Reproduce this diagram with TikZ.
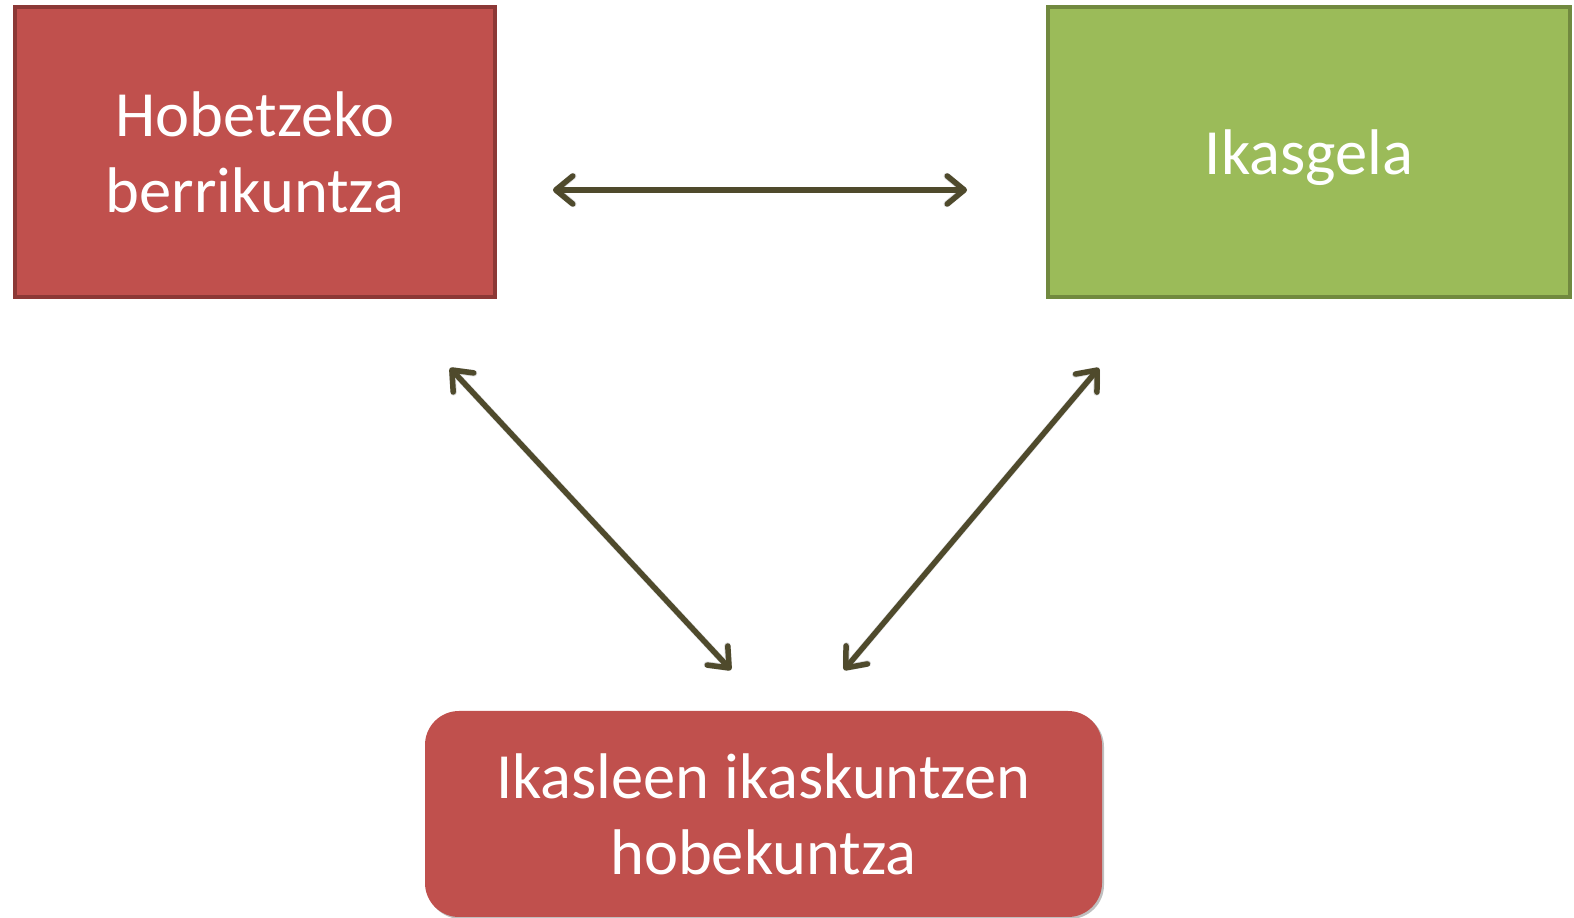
\documentclass[tikz,border=0pt]{standalone}
\usepackage{fontspec}
\setmainfont{Carlito}
\usetikzlibrary{arrows.meta,shadows}
\definecolor{redfill}{HTML}{C0504D}
\definecolor{redline}{HTML}{8C3836}
\definecolor{greenfill}{HTML}{9BBB59}
\definecolor{greenline}{HTML}{71893F}
\definecolor{arrowc}{HTML}{4F4A2C}
\tikzset{
  box/.style={draw, line width=4pt, minimum width=#1, inner sep=0pt, text=white, align=center,
    font=\fontsize{64.5}{76}\selectfont},
  redbox/.style={box=480pt, fill=redfill, draw=redline, minimum height=290pt},
  greenbox/.style={box=522pt, fill=greenfill, draw=greenline, minimum height=290pt},
  roundbox/.style={fill=redfill, rounded corners=34pt, minimum width=677pt, minimum height=206pt,
    inner sep=0pt, text=white, align=center, font=\fontsize{64.5}{76}\selectfont,
    drop shadow={shadow xshift=2pt, shadow yshift=-2pt, opacity=0.25, fill=black}},
  tipA/.tip={Straight Barb[length=17pt,width=28pt,line cap=round,line join=round]},
  link/.style={draw=arrowc, line width=5.5pt, line cap=round, tipA-tipA},
  linkshadow/.style={draw=black!15, line width=6.5pt, line cap=round, tipA-tipA}
}
\begin{document}
\begin{tikzpicture}[x=1pt,y=1pt]
\node[redbox] (inno) at (255,766) {Hobetzeko\\berrikuntza};
\node[greenbox] (gela) at (1309,766) {\raisebox{-23pt}[0pt][0pt]{Ikasgela}};
\node[roundbox] (hobe) at (763.5,104) {Ikasleen ikaskuntzen\\hobekuntza};
\coordinate (a1) at (553,728);
\coordinate (a2) at (967,728);
\coordinate (b1) at (450,550);
\coordinate (b2) at (731,248);
\coordinate (c1) at (1099,550);
\coordinate (c2) at (844,248);
\begin{scope}[shift={(2pt,-3pt)}]
\draw[linkshadow] (a1) -- (a2);
\draw[linkshadow] (b1) -- (b2);
\draw[linkshadow] (c1) -- (c2);
\end{scope}
\draw[link] (a1) -- (a2);
\draw[link] (b1) -- (b2);
\draw[link] (c1) -- (c2);
\pgfresetboundingbox
\useasboundingbox (0,0) rectangle (1574,918);
\end{tikzpicture}
\end{document}
